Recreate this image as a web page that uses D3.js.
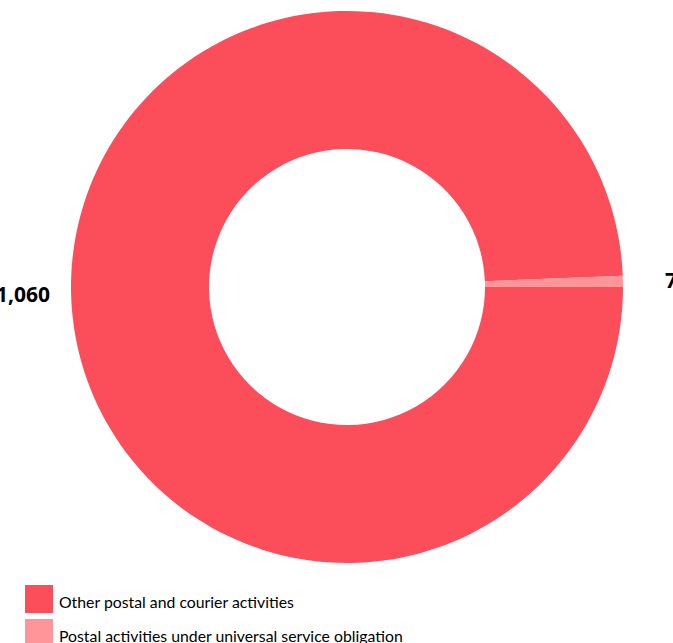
<!DOCTYPE html>
<html>
<head>
<meta charset="utf-8">
<script src="https://cdn.jsdelivr.net/npm/d3@7"></script>
<style>
  html, body { margin: 0; padding: 0; background: #fff; }
  svg { display: block; }
</style>
</head>
<body>
<svg id="chart" width="673" height="643"></svg>
<script>
const categories = ["Other postal and courier activities", "Postal activities under universal service obligation"];
const values = [1060, 7];
const valueLabels = ["1,060", "7"];
const colors = ["#FC4D5B", "#FF9598"];

const svg = d3.select("#chart");
const cx = 347, cy = 287;
const outerR = 276, innerR = 138, labelR = 324;

const pie = d3.pie().sort(null).value(d => d.value)
  .startAngle(Math.PI / 2).endAngle(Math.PI / 2 + 2 * Math.PI);
const data = categories.map((c, i) => ({ cat: c, value: values[i], label: valueLabels[i], color: colors[i] }));
const arcs = pie(data);
const arc = d3.arc().innerRadius(innerR).outerRadius(outerR);

const g = svg.append("g").attr("transform", `translate(${cx},${cy})`);
g.selectAll("path").data(arcs).join("path")
  .attr("d", arc)
  .attr("fill", d => d.data.color);

g.selectAll("text.val").data(arcs).join("text")
  .attr("class", "val")
  .attr("x", d => labelR * Math.sin((d.startAngle + d.endAngle) / 2))
  .attr("y", d => -labelR * Math.cos((d.startAngle + d.endAngle) / 2))
  .attr("text-anchor", "middle")
  .attr("dominant-baseline", "central")
  .attr("font-family", "'Open Sans', sans-serif")
  .attr("font-weight", "bold")
  .attr("font-size", 21)
  .attr("fill", "#000")
  .text(d => d.data.label);

const legend = svg.append("g").attr("transform", "translate(25,585)");
const items = legend.selectAll("g").data(data).join("g")
  .attr("transform", (d, i) => `translate(0,${i * 34})`);
items.append("rect").attr("width", 28).attr("height", 28).attr("fill", d => d.color);
items.append("text")
  .attr("x", 34).attr("y", 22.5)
  .attr("font-family", "Lato, sans-serif")
  .attr("font-size", 15.8)
  .attr("fill", "#000")
  .text(d => d.cat);
</script>
</body>
</html>
